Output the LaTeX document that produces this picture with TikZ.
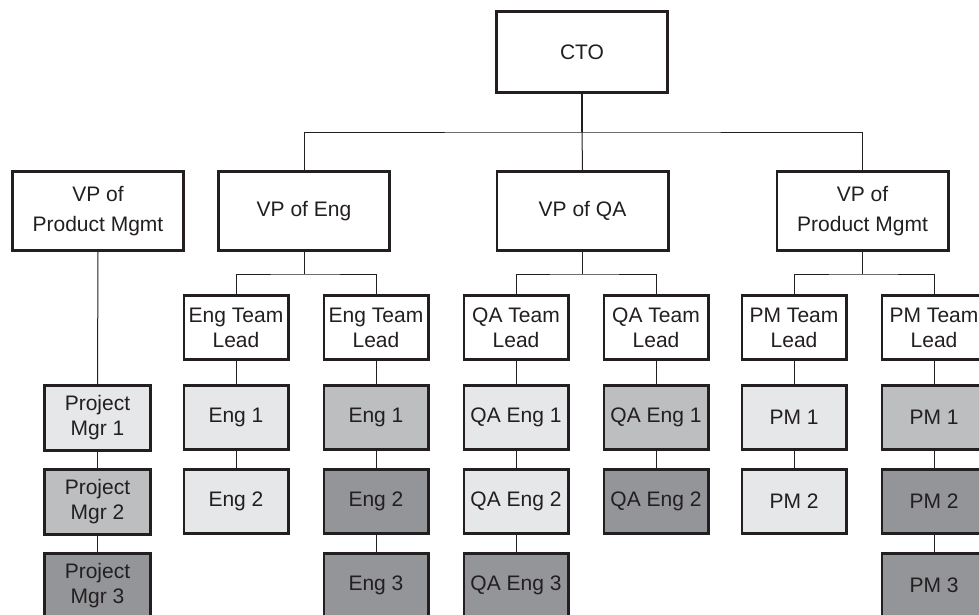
\documentclass[tikz,border=0pt]{standalone}
\usepackage{fontspec}
\setmainfont{Liberation Sans}
\definecolor{ink}{HTML}{231F20}
\definecolor{lightg}{HTML}{E6E7E8}
\definecolor{midg}{HTML}{BCBEC0}
\definecolor{darkg}{HTML}{939598}
\newcommand\boxfont{\fontsize{21}{30}\selectfont}
\newcommand\tightfont{\fontsize{21}{25}\selectfont}
\tikzset{
 box/.style={draw=ink, line width=2.6pt, inner sep=0pt, align=center, text=ink, font=\boxfont, fill=white},
 ctobox/.style={box, minimum width=171.4pt, minimum height=81.4pt},
 vpbox/.style={box, minimum width=171.4pt, minimum height=79.4pt},
 tlbox/.style={box, font=\tightfont, minimum width=104.4pt, minimum height=64.4pt},
 pmbox/.style={box, font=\tightfont, minimum width=106.4pt, minimum height=65.4pt},
 lt/.style={fill=lightg}, md/.style={fill=midg}, dk/.style={fill=darkg},
 link/.style={draw=ink, line width=1pt}
}
\begin{document}
\begin{tikzpicture}[x=1pt,y=-1pt]
\useasboundingbox (0,0) rectangle (979,615);
% top
\node[ctobox] (cto) at (582,52) {CTO};
\node[vpbox] (vpl) at (98,211) {VP of\\Product Mgmt};
\node[vpbox] (vpe) at (304,211) {VP of Eng};
\node[vpbox] (vpq) at (582.5,211) {VP of QA};
\node[vpbox] (vpp) at (862.5,211) {VP of\\Product Mgmt};
% team leads
\node[tlbox] (etl1) at (236,327.5) {Eng Team\\Lead};
\node[tlbox] (etl2) at (376,327.5) {Eng Team\\Lead};
\node[tlbox] (qtl1) at (516,327.5) {QA Team\\Lead};
\node[tlbox] (qtl2) at (656,327.5) {QA Team\\Lead};
\node[tlbox] (ptl1) at (794,327.5) {PM Team\\Lead};
\node[tlbox] (ptl2) at (934,327.5) {PM Team\\Lead};
% project managers
\node[pmbox,lt] (pm1) at (97.5,418) {Project\\Mgr 1};
\node[pmbox,md] (pm2) at (97.5,502) {Project\\Mgr 2};
\node[pmbox,dk] (pm3) at (97.5,586) {Project\\Mgr 3};
% eng
\node[tlbox,lt] (e11) at (236,417.5) {Eng 1};
\node[tlbox,lt] (e12) at (236,501.5) {Eng 2};
\node[tlbox,md] (e21) at (376,417.5) {Eng 1};
\node[tlbox,dk] (e22) at (376,501.5) {Eng 2};
\node[tlbox,dk] (e23) at (376,585.5) {Eng 3};
% qa
\node[tlbox,lt] (q11) at (516,417.5) {QA Eng 1};
\node[tlbox,lt] (q12) at (516,501.5) {QA Eng 2};
\node[tlbox,dk] (q13) at (516,585.5) {QA Eng 3};
\node[tlbox,md] (q21) at (656,417.5) {QA Eng 1};
\node[tlbox,dk] (q22) at (656,501.5) {QA Eng 2};
% pm
\node[tlbox,lt] (p11) at (794,417.5) {PM 1};
\node[tlbox,lt] (p12) at (794,501.5) {PM 2};
\node[tlbox,md] (p21) at (934,417.5) {PM 1};
\node[tlbox,dk] (p22) at (934,501.5) {PM 2};
\node[tlbox,dk] (p23) at (934,585.5) {PM 3};
% buses
\coordinate (b0) at (582,132);
\coordinate (be) at (304,274);
\coordinate (bq) at (582.5,274);
\coordinate (bp) at (862.5,274);
\draw[link, line width=1.6pt] (cto.south) -- (b0);
\draw[link] (vpe.north) |- (b0) -| (vpp.north);
\draw[link] (b0) -- (vpq.north);
\draw[link] (vpe.south) -- (be);
\draw[link] (etl1.north) |- (be) -| (etl2.north);
\draw[link] (vpq.south) -- (bq);
\draw[link] (qtl1.north) |- (bq) -| (qtl2.north);
\draw[link] (vpp.south) -- (bp);
\draw[link] (ptl1.north) |- (bp) -| (ptl2.north);
% chains
\draw[link] (vpl.south) -- (pm1.north);
\draw[link] (pm1.south) -- (pm2.north);
\draw[link] (pm2.south) -- (pm3.north);
\draw[link] (etl1.south) -- (e11.north);
\draw[link] (e11.south) -- (e12.north);
\draw[link] (etl2.south) -- (e21.north);
\draw[link] (e21.south) -- (e22.north);
\draw[link] (e22.south) -- (e23.north);
\draw[link] (qtl1.south) -- (q11.north);
\draw[link] (q11.south) -- (q12.north);
\draw[link] (q12.south) -- (q13.north);
\draw[link] (qtl2.south) -- (q21.north);
\draw[link] (q21.south) -- (q22.north);
\draw[link] (ptl1.south) -- (p11.north);
\draw[link] (p11.south) -- (p12.north);
\draw[link] (ptl2.south) -- (p21.north);
\draw[link] (p21.south) -- (p22.north);
\draw[link] (p22.south) -- (p23.north);
\end{tikzpicture}
\end{document}
